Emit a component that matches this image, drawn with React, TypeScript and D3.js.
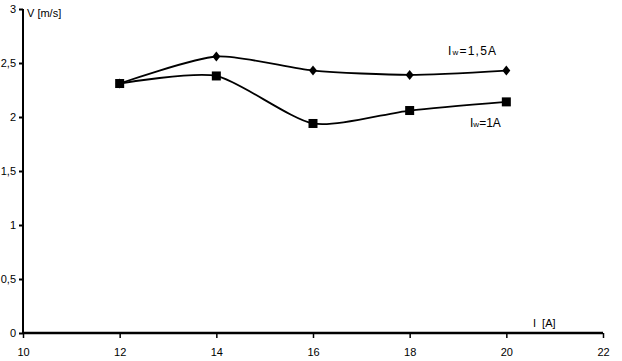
import React from "react";
import * as d3 from "d3";

const currents = [12, 14, 16, 18, 20];
const speedIw15 = [2.31, 2.56, 2.43, 2.39, 2.43];
const speedIw1 = [2.31, 2.38, 1.94, 2.06, 2.14];
const xTicks = [10, 12, 14, 16, 18, 20, 22];
const yTicks = [0, 0.5, 1, 1.5, 2, 2.5, 3];
const yTickLabels = ["0", "0,5", "1", "1,5", "2", "2,5", "3"];

const App = () => {
  const ref = React.useRef<SVGSVGElement>(null);

  React.useEffect(() => {
    const width = 622;
    const height = 361;
    const margin = { left: 23, right: 19, top: 9, bottom: 28 };
    const font = "'Liberation Sans', Arial, sans-serif";

    const svg = d3.select(ref.current);
    svg.selectAll("*").remove();

    const x = d3.scaleLinear().domain([10, 22]).range([margin.left, width - margin.right]);
    const y = d3.scaleLinear().domain([0, 3]).range([height - margin.bottom, margin.top]);

    // axes
    const xAxis = svg.append("g")
      .attr("transform", `translate(0,${y(0)})`)
      .call(d3.axisBottom(x).tickValues(xTicks).tickSize(5).tickPadding(10).tickFormat(d => String(d)));
    xAxis.select(".domain").attr("stroke-width", 2.5).attr("d", `M${x(10)},0H${x(22)}`);
    xAxis.selectAll(".tick line").attr("stroke-width", 1.5);
    xAxis.selectAll(".tick text").attr("font-family", font).attr("font-size", 11).attr("fill", "#000");

    const yAxis = svg.append("g")
      .attr("transform", `translate(${x(10)},0)`)
      .call(d3.axisLeft(y).tickValues(yTicks).tickSize(4).tickPadding(3)
        .tickFormat((d, i) => yTickLabels[i]));
    yAxis.select(".domain").attr("stroke-width", 2).attr("d", `M0,${y(3)}V${y(0)}`);
    yAxis.selectAll(".tick line").attr("stroke-width", 2);
    yAxis.selectAll(".tick text").attr("font-family", font).attr("font-size", 11).attr("fill", "#000");

    // axis titles
    svg.append("text").attr("x", x(10) + 4).attr("y", y(3) + 8)
      .attr("font-family", font).attr("font-size", 11).text("V [m/s]");
    svg.append("text").attr("x", x(20.55)).attr("y", y(0) - 6)
      .attr("font-family", font).attr("font-size", 11).attr("xml:space", "preserve").text("I  [A]");

    const line = d3.line<number>()
      .x((d, i) => x(currents[i]))
      .y(d => y(d))
      .curve(d3.curveCardinal.tension(0.3));

    const series = [speedIw15, speedIw1];
    series.forEach(s => {
      svg.append("path").datum(s)
        .attr("fill", "none").attr("stroke", "#000").attr("stroke-width", 1.8)
        .attr("d", line);
    });

    // diamonds
    svg.append("g").selectAll("path").data(speedIw15).join("path")
      .attr("transform", (d, i) => `translate(${x(currents[i])},${y(d)})`)
      .attr("d", "M0,-5L4,0L0,5L-4,0Z").attr("fill", "#000");

    // squares
    svg.append("g").selectAll("rect").data(speedIw1).join("rect")
      .attr("x", (d, i) => x(currents[i]) - 4.5).attr("y", d => y(d) - 4.5)
      .attr("width", 9).attr("height", 9).attr("fill", "#000");

    // series labels
    const label = (lx: number, ly: number, rest: string, spacing: number) => {
      const t = svg.append("text").attr("x", lx).attr("y", ly)
        .attr("font-family", font).attr("font-size", 12).attr("letter-spacing", spacing);
      t.append("tspan").text("I");
      t.append("tspan").attr("font-size", 8).text("w");
      t.append("tspan").text(rest);
    };
    label(448, 55, "=1,5A", 1.2);
    label(470, 127, "=1A", 0);
  }, []);

  return (
    <svg
      ref={ref}
      width={622}
      height={361}
      style={{ position: "absolute", left: 0, top: 0, background: "#fff" }}
    />
  );
};

export default App;
